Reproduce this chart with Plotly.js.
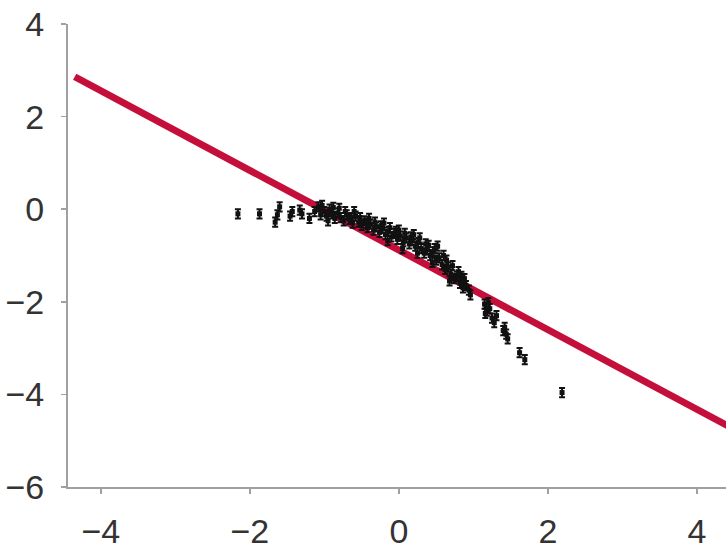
<!DOCTYPE html>
<html>
<head>
<meta charset="utf-8">
<script src="https://cdn.plot.ly/plotly-3.0.1.min.js"></script>
<style>html,body{margin:0;padding:0;background:#fff;}#chart{width:726px;height:549px;}</style>
</head>
<body>
<div id="chart"></div>
<script>
const pointX = [-2.16,-1.87,-1.66,-1.63,-1.60,-1.46,-1.43,-1.33,-1.30,-1.20,-1.13,-1.08,-1.03,-1.00,-0.97,-0.93,-0.90,-0.86,-0.82,-0.78,-0.74,-0.70,-0.66,-0.62,-0.58,-0.54,-0.50,-0.46,-0.42,-0.38,-0.34,-0.30,-0.26,-0.22,-0.18,-0.14,-0.10,-0.06,-0.02,0.02,0.06,0.10,0.14,0.18,0.22,0.26,0.30,0.34,0.38,0.42,0.46,0.50,0.54,0.58,0.62,0.66,0.70,0.74,0.78,0.82,0.86,0.90,0.94,1.15,1.18,1.22,1.25,1.28,1.42,1.44,1.46,1.62,1.69,2.19,
  -0.95,-0.80,-0.60,-0.40,-0.20,0.00,0.20,0.40,0.60,0.05,-0.15,0.25,0.45,0.68,0.80,0.88,0.96,
  -1.05,-0.88,-0.72,-0.52,-0.32,-0.12,0.08,0.28,0.48,0.52,0.64,0.72,0.84,0.36,0.16,-0.04,-0.24,-0.44,-0.64,1.20,1.31,1.40,1.16];
const pointY = [-0.10,-0.10,-0.28,-0.12,0.05,-0.15,-0.05,-0.02,-0.10,-0.20,-0.05,0.05,0.08,-0.05,-0.15,0.00,-0.10,-0.20,-0.08,-0.18,-0.25,-0.12,-0.22,-0.30,-0.15,-0.28,-0.35,-0.25,-0.40,-0.32,-0.45,-0.38,-0.50,-0.42,-0.55,-0.48,-0.60,-0.52,-0.65,-0.58,-0.70,-0.62,-0.75,-0.68,-0.80,-0.72,-0.85,-0.95,-0.88,-1.00,-0.92,-1.10,-1.05,-1.20,-1.30,-1.25,-1.40,-1.50,-1.45,-1.60,-1.70,-1.65,-1.75,-2.05,-2.20,-2.15,-2.35,-2.45,-2.55,-2.70,-2.80,-3.10,-3.25,-3.96,
  -0.25,0.02,-0.05,-0.20,-0.30,-0.45,-0.55,-0.78,-1.00,-0.85,-0.68,-0.95,-1.15,-1.55,-1.35,-1.50,-1.85,
  -0.12,0.04,-0.05,-0.18,-0.28,-0.40,-0.52,-0.62,-0.85,-0.80,-1.10,-1.22,-1.45,-0.75,-0.60,-0.48,-0.36,-0.30,-0.18,-2.02,-2.30,-2.62,-2.25];
const lineX = [-4.35, 4.45];
const lineY = [2.86, -4.71];
const xTicks = [-4,-2,0,2,4];
const yTicks = [-6,-4,-2,0,2,4];
const tickLabel = v => (v < 0 ? '\u2212' + Math.abs(v) : String(v));

const traces = [
  {x: lineX, y: lineY, mode: 'lines', type: 'scatter', line: {color: '#c40f3a', width: 7}, hoverinfo: 'skip'},
  {x: pointX, y: pointY, mode: 'markers', type: 'scatter',
   marker: {symbol: 'square', size: 5, color: '#111'},
   error_y: {type: 'constant', value: 0.1, width: 3, thickness: 2, color: '#111'}}
];
const layout = {
  width: 726, height: 549,
  margin: {l: 68, r: 0, t: 24, b: 62},
  paper_bgcolor: '#fff', plot_bgcolor: '#fff',
  showlegend: false,
  font: {family: 'Liberation Sans, Arial, sans-serif', color: '#333', size: 34},
  xaxis: {range: [-4.44, 4.39], showgrid: false, zeroline: false, showline: true, linecolor: '#a0a0a0', linewidth: 2,
    ticks: 'outside', ticklen: 5, tickcolor: '#a0a0a0', tickwidth: 1.5,
    tickvals: xTicks, ticktext: xTicks.map(tickLabel), ticklabelstandoff: 8},
  yaxis: {range: [-6, 4], showgrid: false, zeroline: false, showline: true, linecolor: '#a0a0a0', linewidth: 2,
    ticks: 'outside', ticklen: 5, tickcolor: '#a0a0a0', tickwidth: 1.5,
    tickvals: yTicks, ticktext: yTicks.map(tickLabel), ticklabelstandoff: 10}
};
Plotly.newPlot('chart', traces, layout, {displayModeBar: false, staticPlot: true});
</script>
</body>
</html>
